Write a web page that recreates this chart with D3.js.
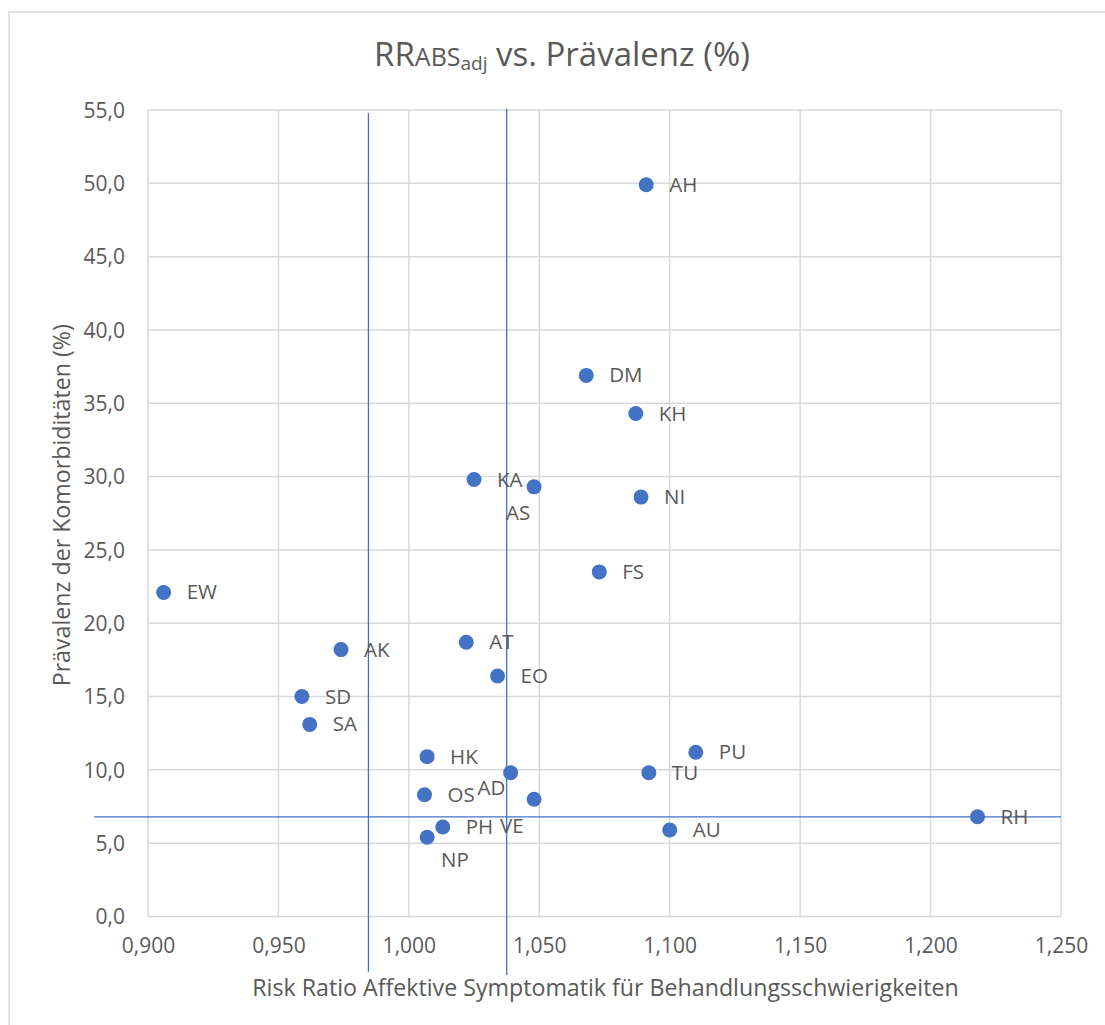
<!DOCTYPE html>
<html>
<head>
<meta charset="utf-8">
<script src="https://cdn.jsdelivr.net/npm/d3@7/dist/d3.min.js"></script>
<style>
  html, body { margin: 0; padding: 0; background: #fff; }
  svg { display: block; }
  text { font-family: "Open Sans", "Noto Sans", sans-serif; fill: #595959; }
</style>
</head>
<body>
<div id="chart"></div>
<script>
// ---- data ----
const labels = ["AH","DM","KH","KA","AS","NI","FS","EW","AT","AK","EO","SD","SA","HK","PU","TU","AD","OS","VE","RH","PH","AU","NP"];
const riskRatio = [1.091,1.068,1.087,1.025,1.048,1.089,1.073,0.906,1.022,0.974,1.034,0.959,0.962,1.007,1.110,1.092,1.039,1.006,1.048,1.218,1.013,1.100,1.007];
const prevalence = [49.9,36.9,34.3,29.8,29.3,28.6,23.5,22.1,18.7,18.2,16.4,15.0,13.1,10.9,11.2,9.8,9.8,8.3,8.0,6.8,6.1,5.9,5.4];
const xTicks = [0.900,0.950,1.000,1.050,1.100,1.150,1.200,1.250];
const yTicks = [0,5,10,15,20,25,30,35,40,45,50,55];
const refX = [0.9845, 1.0375];
const refY = [6.8];

// ---- layout / style ----
const W = 1105, H = 1025;
const plot = {left: 148, right: 1061, top: 110, bottom: 916.5};
const blue = "#4472C4";
const grid = "#d9d9d9";
// label placement (dx, dy from point centre) — default right of point
const defaultOffset = [23, 7];
const labelOffset = {AS: [-28, 33], AD: [-33, 22], VE: [-34, 34], NP: [14, 30]};

const svg = d3.select("#chart").append("svg").attr("width", W).attr("height", H);
svg.append("rect").attr("width", W).attr("height", H).attr("fill", "#fff");
svg.append("rect").attr("x", 9).attr("y", 12).attr("width", W + 20).attr("height", H + 20)
  .attr("fill", "none").attr("stroke", grid).attr("stroke-width", 1.5);

const x = d3.scaleLinear().domain([0.9, 1.25]).range([plot.left, plot.right]);
const y = d3.scaleLinear().domain([0, 55]).range([plot.bottom, plot.top]);
const commaFmt = (digits) => (v) => d3.format("." + digits + "f")(v).replace(".", ",");

// gridlines
const g = svg.append("g");
g.selectAll("line.h").data(yTicks).join("line")
  .attr("x1", plot.left).attr("x2", plot.right)
  .attr("y1", d => y(d)).attr("y2", d => y(d))
  .attr("stroke", grid).attr("stroke-width", 1.5);
g.selectAll("line.v").data(xTicks).join("line")
  .attr("y1", plot.top).attr("y2", plot.bottom)
  .attr("x1", d => x(d)).attr("x2", d => x(d))
  .attr("stroke", grid).attr("stroke-width", 1.5);

// axes (labels only)
const yAxis = svg.append("g").attr("transform", `translate(${plot.left - 23},0)`)
  .call(d3.axisLeft(y).tickValues(yTicks).tickFormat(commaFmt(1)).tickSize(0).tickPadding(0));
yAxis.select(".domain").remove();
yAxis.selectAll("text").attr("font-size", 21).attr("fill", "#595959")
  .attr("font-family", '"Open Sans", sans-serif').attr("dy", "0.35em");

const xAxis = svg.append("g").attr("transform", `translate(0,${plot.bottom + 20})`)
  .call(d3.axisBottom(x).tickValues(xTicks).tickFormat(commaFmt(3)).tickSize(0).tickPadding(0));
xAxis.select(".domain").remove();
xAxis.selectAll("text").attr("font-size", 21).attr("fill", "#595959")
  .attr("font-family", '"Open Sans", sans-serif').attr("dy", "0.8em");

// reference lines
svg.selectAll("line.rx").data(refX).join("line")
  .attr("x1", d => x(d)).attr("x2", d => x(d))
  .attr("y1", (d, i) => i === 0 ? 113 : 109).attr("y2", (d, i) => i === 0 ? 972 : 975)
  .attr("stroke", blue).attr("stroke-width", 1.3);
svg.selectAll("line.ry").data(refY).join("line")
  .attr("x1", 94).attr("x2", plot.right)
  .attr("y1", d => y(d)).attr("y2", d => y(d))
  .attr("stroke", blue).attr("stroke-width", 1.3);

// points
const pts = labels.map((l, i) => ({label: l, rr: riskRatio[i], p: prevalence[i]}));
svg.selectAll("circle.pt").data(pts).join("circle")
  .attr("cx", d => x(d.rr)).attr("cy", d => y(d.p)).attr("r", 7.5)
  .attr("fill", blue);

svg.selectAll("text.lbl").data(pts).join("text")
  .attr("x", d => x(d.rr) + (labelOffset[d.label] || defaultOffset)[0])
  .attr("y", d => y(d.p) + (labelOffset[d.label] || defaultOffset)[1])
  .attr("font-size", 20.5).attr("fill", "#404040")
  .text(d => d.label);

// title
const title = svg.append("text").attr("x", 562).attr("y", 66).attr("text-anchor", "middle")
  .attr("font-size", 33).attr("fill", "#595959");
title.append("tspan").text("RR");
title.append("tspan").attr("font-size", 25).text("ABS");
title.append("tspan").attr("font-size", 19).attr("dy", 4).text("adj");
title.append("tspan").attr("dy", -4).text(" vs. Prävalenz (%)");

// axis titles
svg.append("text").attr("x", (plot.left + plot.right) / 2 + 1).attr("y", 996)
  .attr("text-anchor", "middle").attr("font-size", 23.2).text("Risk Ratio Affektive Symptomatik für Behandlungsschwierigkeiten");
svg.append("text").attr("transform", `translate(70,${(plot.top + plot.bottom) / 2 - 8}) rotate(-90)`)
  .attr("text-anchor", "middle").attr("font-size", 23.2).text("Prävalenz der Komorbiditäten (%)");
</script>
</body>
</html>
